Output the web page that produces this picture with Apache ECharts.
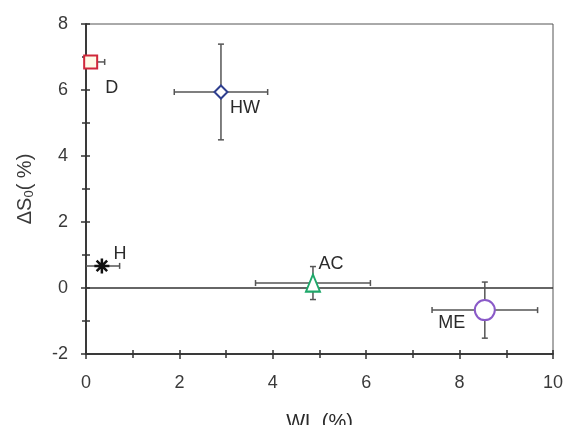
<!DOCTYPE html>
<html><head><meta charset="utf-8">
<script src="https://cdn.jsdelivr.net/npm/echarts@6/dist/echarts.min.js"></script>
<style>html,body{margin:0;padding:0;background:#fff}#c{width:567px;height:425px}</style>
</head><body><div id="c"></div>
<script>
// Data
const names = ['D', 'HW', 'H', 'AC', 'ME'];
const wl = [0.1, 2.89, 0.34, 4.86, 8.54];          // x values (WL %)
const ds0 = [6.85, 5.94, 0.67, 0.15, -0.67];       // y values (ΔS0 %)
const wlErr = [0.3, 1.0, 0.38, 1.23, 1.13];        // x error (±)
const ds0Err = [0, 1.45, 0, 0.5, 0.85];            // y error (±)
const xTicks = [0, 2, 4, 6, 8, 10];
const yTicks = [-2, 0, 2, 4, 6, 8];

const colors = ['#d0283a', '#2f3f8f', '#111111', '#1fa86a', '#8a5ac8'];
const symbols = ['rect', 'diamond', 'path://M0,5 L10,5 M5,0 L5,10 M1.5,1.5 L8.5,8.5 M8.5,1.5 L1.5,8.5', 'triangle', 'circle'];
const sizes = [[13, 13], [13, 13], [15, 15], [14, 17], [20, 20]];
const labelPos = [[21, 26], [24, 16], [18, -12], [18, -19], [-33, 13]];
const fills = ['#fffbe8', '#ffffff', '#111111', '#ffffff', '#ffffff'];

const errData = names.map((n, i) => [wl[i], ds0[i], wl[i] - wlErr[i], wl[i] + wlErr[i], ds0[i] - ds0Err[i], ds0[i] + ds0Err[i]]);

function renderErr(params, api) {
  const x = api.value(0), y = api.value(1);
  const c = api.coord([x, y]);
  const xl = api.coord([Math.max(0, api.value(2)), y]);
  const xh = api.coord([api.value(3), y]);
  const yl = api.coord([x, api.value(4)]);
  const yh = api.coord([x, api.value(5)]);
  const cap = 3;
  const st = { stroke: '#555', lineWidth: 1.5 };
  const ch = [];
  if (api.value(3) - api.value(2) > 1e-9) {
    ch.push({ type: 'line', shape: { x1: xl[0], y1: c[1], x2: xh[0], y2: c[1] }, style: st });
    if (api.value(2) > 0) ch.push({ type: 'line', shape: { x1: xl[0], y1: c[1] - cap, x2: xl[0], y2: c[1] + cap }, style: st });
    ch.push({ type: 'line', shape: { x1: xh[0], y1: c[1] - cap, x2: xh[0], y2: c[1] + cap }, style: st });
  }
  if (api.value(5) - api.value(4) > 1e-9) {
    ch.push({ type: 'line', shape: { x1: c[0], y1: yl[1], x2: c[0], y2: yh[1] }, style: st });
    ch.push({ type: 'line', shape: { x1: c[0] - cap, y1: yl[1], x2: c[0] + cap, y2: yl[1] }, style: st });
    ch.push({ type: 'line', shape: { x1: c[0] - cap, y1: yh[1], x2: c[0] + cap, y2: yh[1] }, style: st });
  }
  return { type: 'group', children: ch };
}

const font = 'Liberation Sans, Arial, sans-serif';
const lineSt = { color: '#333', width: 1.5 };
const axCommon = {
  min: 0, max: 10, interval: 2,
  axisLine: { show: true, onZero: false, lineStyle: lineSt },
  splitLine: { show: false },
  minorTick: { show: true, splitNumber: 2, length: 4, lineStyle: lineSt },
  axisTick: { show: true, length: 4, lineStyle: lineSt }
};

const scatterSeries = names.map((n, i) => ({
  type: 'scatter', name: n, z: 5,
  data: [[wl[i], ds0[i]]],
  symbol: symbols[i], symbolSize: sizes[i],
  itemStyle: { color: fills[i], borderColor: colors[i], borderWidth: i === 2 ? 2.5 : 2, opacity: 1 },
  label: { show: true, formatter: n, position: 'inside', offset: labelPos[i], color: '#2a2a2a', fontSize: 18, fontFamily: font }
}));

const chart = echarts.init(document.getElementById('c'));
chart.setOption({
  animation: false,
  backgroundColor: '#fff',
  grid: { left: 86, right: 14, top: 24, bottom: 71, show: true, borderColor: '#555', borderWidth: 1, outerBoundsMode: 'none', containLabel: false },
  xAxis: [
    Object.assign({}, axCommon, {
      type: 'value', position: 'bottom',
      name: 'WL (%)', nameLocation: 'middle', nameGap: 58,
      nameTextStyle: { fontSize: 20, color: '#2a2a2a', fontFamily: font },
      axisLabel: { fontSize: 18, color: '#3a3a3a', fontFamily: font, margin: 20, customValues: xTicks },
      axisTick: { show: true, length: 5, lineStyle: lineSt }
    }),
    Object.assign({}, axCommon, {
      type: 'value', position: 'bottom', axisLabel: { show: false },
      axisTick: { show: true, inside: true, length: 4, lineStyle: lineSt }
    })
  ],
  yAxis: [
    Object.assign({}, axCommon, {
      type: 'value', position: 'left', min: -2, max: 8, interval: 2,
      name: '{a|ΔS}{b|0}{a|( %)}', nameLocation: 'middle', nameGap: 50, nameRotate: 90,
      nameTextStyle: { color: '#3a3a3a', fontFamily: font, rich: { a: { fontSize: 20, color: '#3a3a3a', fontFamily: font }, b: { fontSize: 13, color: '#3a3a3a', fontFamily: font, padding: [9, 0, 0, 0] } } },
      axisLabel: { fontSize: 18, color: '#3a3a3a', fontFamily: font, margin: 18, customValues: yTicks },
      axisTick: { show: true, length: 5, lineStyle: lineSt }
    }),
    Object.assign({}, axCommon, {
      type: 'value', position: 'left', min: -2, max: 8, interval: 2, axisLabel: { show: false },
      axisTick: { show: true, inside: true, length: 4, lineStyle: lineSt }
    })
  ],
  series: [
    { type: 'line', data: [[0, 0], [10, 0]], symbol: 'none', lineStyle: lineSt, z: 2, silent: true },
    { type: 'custom', renderItem: renderErr, data: errData, z: 3, encode: { x: 0, y: 1 } }
  ].concat(scatterSeries)
});
</script></body></html>
